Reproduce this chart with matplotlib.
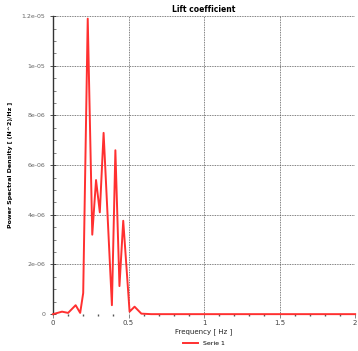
import matplotlib
matplotlib.use("Agg")
import matplotlib.pyplot as plt
from matplotlib.ticker import MultipleLocator

freq = [0.0, 0.06, 0.10, 0.15, 0.18, 0.20, 0.23, 0.26, 0.285, 0.31, 0.335, 0.39,
        0.413, 0.44, 0.465, 0.507, 0.54, 0.585, 0.65, 1.0, 1.5, 2.0]
psd = [0.0, 0.1, 0.05, 0.36, 0.05, 0.85, 11.9, 3.2, 5.4, 4.1, 7.3, 0.36,
       6.6, 1.13, 3.76, 0.1, 0.3, 0.02, 0.0, 0.0, 0.0, 0.0]
psd = [v * 1e-6 for v in psd]
yticks = [0, 2e-6, 4e-6, 6e-6, 8e-6, 1e-5, 1.2e-5]
ytick_labels = ["0", "2e-06", "4e-06", "6e-06", "8e-06", "1e-05", "1.2e-05"]
xticks = [0, 0.5, 1, 1.5, 2]
xtick_labels = ["0", "0.5", "1", "1.5", "2"]

fig = plt.figure(figsize=(3.58, 3.51), dpi=100)
ax = fig.add_axes([0.148, 0.105, 0.844, 0.849])
line, = ax.plot(freq, psd, color="#ff3030", lw=1.4, label="Serie 1", clip_on=False, zorder=3)
ax.set_xlim(0, 2)
ax.set_ylim(0, 1.2e-5)
ax.set_xticks(xticks)
ax.set_xticklabels(xtick_labels, fontsize=5, color="#444444")
ax.set_yticks(yticks)
ax.set_yticklabels(ytick_labels, fontsize=4.5, color="#666666")
ax.xaxis.set_minor_locator(MultipleLocator(0.1))
ax.yaxis.set_minor_locator(MultipleLocator(0.5e-6))
ax.tick_params(axis="y", which="major", direction="inout", length=4, width=0.6, color="#333333")
ax.tick_params(axis="y", which="minor", direction="in", length=2, width=0.5, color="#555555")
ax.tick_params(axis="x", which="major", direction="out", length=3, width=0.5, color="#555555", pad=1)
ax.tick_params(axis="x", which="minor", direction="out", length=1.5, width=1.0, color="#555555")
ax.grid(True, which="major", color="#555555", ls=(0, (1, 1)), lw=0.6)
for s in ["top", "right", "bottom"]:
    ax.spines[s].set_visible(False)
ax.spines["left"].set_color("#333333")
ax.spines["left"].set_linewidth(1.0)
ax.set_title("Lift coefficient", fontsize=5.5, fontweight="bold", pad=3, loc="center")
ax.set_xlabel("Frequency [ Hz ]", fontsize=5, labelpad=2, color="#222222")
ax.set_ylabel("Power Spectral Density [ (N^2)/Hz ]", fontsize=4.5, fontweight="bold", labelpad=6)
fig.legend(handles=[line], loc="center", bbox_to_anchor=(0.57, 0.022), fontsize=4.5,
           frameon=False, handlelength=2.5, handletextpad=0.8)
fig.savefig("out.png", dpi=100)
